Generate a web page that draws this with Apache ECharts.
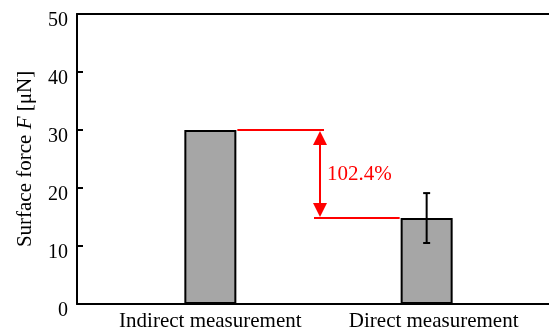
<!DOCTYPE html>
<html>
<head>
<meta charset="utf-8">
<script src="https://cdn.jsdelivr.net/npm/echarts@6/dist/echarts.min.js"></script>
<style>
  html, body { margin: 0; padding: 0; background: #fff; }
  #chart { width: 549px; height: 329px; }
</style>
</head>
<body>
<div id="chart"></div>
<script>
// Measured surface force for both methods
const categories = ['Indirect measurement', 'Direct measurement'];
const forces = [30, 14.82];
const errors = [0, 4.3];
const diffLabel = '102.4%';
const yMin = 0, yMax = 50, yStep = 10;

const FONT = '"Liberation Serif", "Times New Roman", serif';
const RED = '#ff0000';
const BAR_W = 52;

const chart = echarts.init(document.getElementById('chart'), null, { renderer: 'canvas' });

const errorData = categories
  .map((c, i) => [i, forces[i], errors[i]])
  .filter(d => d[2] > 0);

const option = {
  animation: false,
  backgroundColor: '#fff',
  grid: [
    // frame grid: carries the visible axes
    { left: 77, right: 0, top: 14, bottom: 25, outerBoundsMode: 'none', containLabel: false },
    // data grid: carries the categories and bars
    { left: 102.2, right: 14.2, top: 14, bottom: 25, outerBoundsMode: 'none', containLabel: false }
  ],
  xAxis: [
    { type: 'value', gridIndex: 0, position: 'bottom', min: 0, max: 1,
      axisLine: { show: true, lineStyle: { color: '#000', width: 2 } },
      axisTick: { show: false }, axisLabel: { show: false }, splitLine: { show: false } },
    { type: 'value', gridIndex: 0, position: 'top', min: 0, max: 1,
      axisLine: { show: true, lineStyle: { color: '#000', width: 2 } },
      axisTick: { show: false }, axisLabel: { show: false }, splitLine: { show: false } },
    { type: 'category', gridIndex: 1, data: categories,
      axisLine: { show: false }, axisTick: { show: false },
      axisLabel: {
        color: '#000', fontFamily: FONT, fontSize: 21, margin: 7, interval: 0,
        formatter: function (value, idx) { return idx === 1 ? '{r|' + value + '}' : value; },
        rich: { r: { fontFamily: FONT, fontSize: 21, color: '#000', padding: [0, 0, 0, 14] } }
      } }
  ],
  yAxis: [
    { type: 'value', gridIndex: 0, min: yMin, max: yMax, interval: yStep,
      axisLine: { show: true, lineStyle: { color: '#000', width: 2 } },
      axisTick: { show: true, inside: true, length: 6, lineStyle: { color: '#000', width: 2 } },
      axisLabel: { color: '#000', fontFamily: FONT, fontSize: 20, margin: 9,
                   verticalAlign: 'top', lineHeight: 13 },
      splitLine: { show: false },
      name: '{n|Surface force }{i|F}{n| [μN]}',
      nameLocation: 'middle', nameGap: 41, nameRotate: 90,
      nameTextStyle: {
        rich: {
          n: { fontFamily: FONT, fontSize: 21, color: '#000' },
          i: { fontFamily: FONT, fontSize: 21, color: '#000', fontStyle: 'italic' }
        }
      } },
    { type: 'value', gridIndex: 1, min: yMin, max: yMax, interval: yStep, show: false }
  ],
  series: [
    {
      type: 'bar', xAxisIndex: 2, yAxisIndex: 1,
      data: forces, barWidth: BAR_W,
      itemStyle: { color: '#a6a6a6', borderColor: '#000', borderWidth: 2 },
      z: 2
    },
    {
      // error bars
      type: 'custom', xAxisIndex: 2, yAxisIndex: 1, z: 4,
      data: errorData,
      renderItem: function (params, api) {
        const i = api.value(0), v = api.value(1), e = api.value(2);
        const hi = api.coord([i, v + e]);
        const lo = api.coord([i, v - e]);
        const cap = 3.5;
        const st = { stroke: '#000', lineWidth: 2 };
        return { type: 'group', children: [
          { type: 'line', shape: { x1: hi[0], y1: hi[1], x2: lo[0], y2: lo[1] }, style: st },
          { type: 'line', shape: { x1: hi[0] - cap, y1: hi[1], x2: hi[0] + cap, y2: hi[1] }, style: st },
          { type: 'line', shape: { x1: lo[0] - cap, y1: lo[1], x2: lo[0] + cap, y2: lo[1] }, style: st }
        ] };
      }
    },
    {
      // red difference annotation between the two bars
      type: 'custom', xAxisIndex: 2, yAxisIndex: 1, z: 5,
      data: [[0, 1]],
      renderItem: function (params, api) {
        const p0 = api.coord([0, forces[0]]);
        const p1 = api.coord([1, forces[1]]);
        const half = BAR_W / 2 + 1;
        const mx = (p0[0] + p1[0]) / 2 + 1.5;
        const headW = 7, headL = 15;
        const st = { stroke: RED, lineWidth: 2 };
        return { type: 'group', children: [
          { type: 'line', shape: { x1: p0[0] + half, y1: p0[1], x2: mx + 4, y2: p0[1] }, style: st },
          { type: 'line', shape: { x1: mx - 6, y1: p1[1], x2: p1[0] - half, y2: p1[1] }, style: st },
          { type: 'line', shape: { x1: mx, y1: p0[1] + headL - 2, x2: mx, y2: p1[1] - headL + 2 }, style: st },
          { type: 'polygon', shape: { points: [[mx, p0[1] + 1], [mx - headW, p0[1] + headL], [mx + headW, p0[1] + headL]] },
            style: { fill: RED } },
          { type: 'polygon', shape: { points: [[mx, p1[1] - 1], [mx - headW, p1[1] - headL], [mx + headW, p1[1] - headL]] },
            style: { fill: RED } },
          { type: 'text', x: mx + 7, y: (p0[1] + p1[1]) / 2,
            style: { text: diffLabel, fill: RED, font: '21px ' + FONT, textAlign: 'left', textVerticalAlign: 'middle' } }
        ] };
      }
    }
  ]
};

chart.setOption(option);
</script>
</body>
</html>
